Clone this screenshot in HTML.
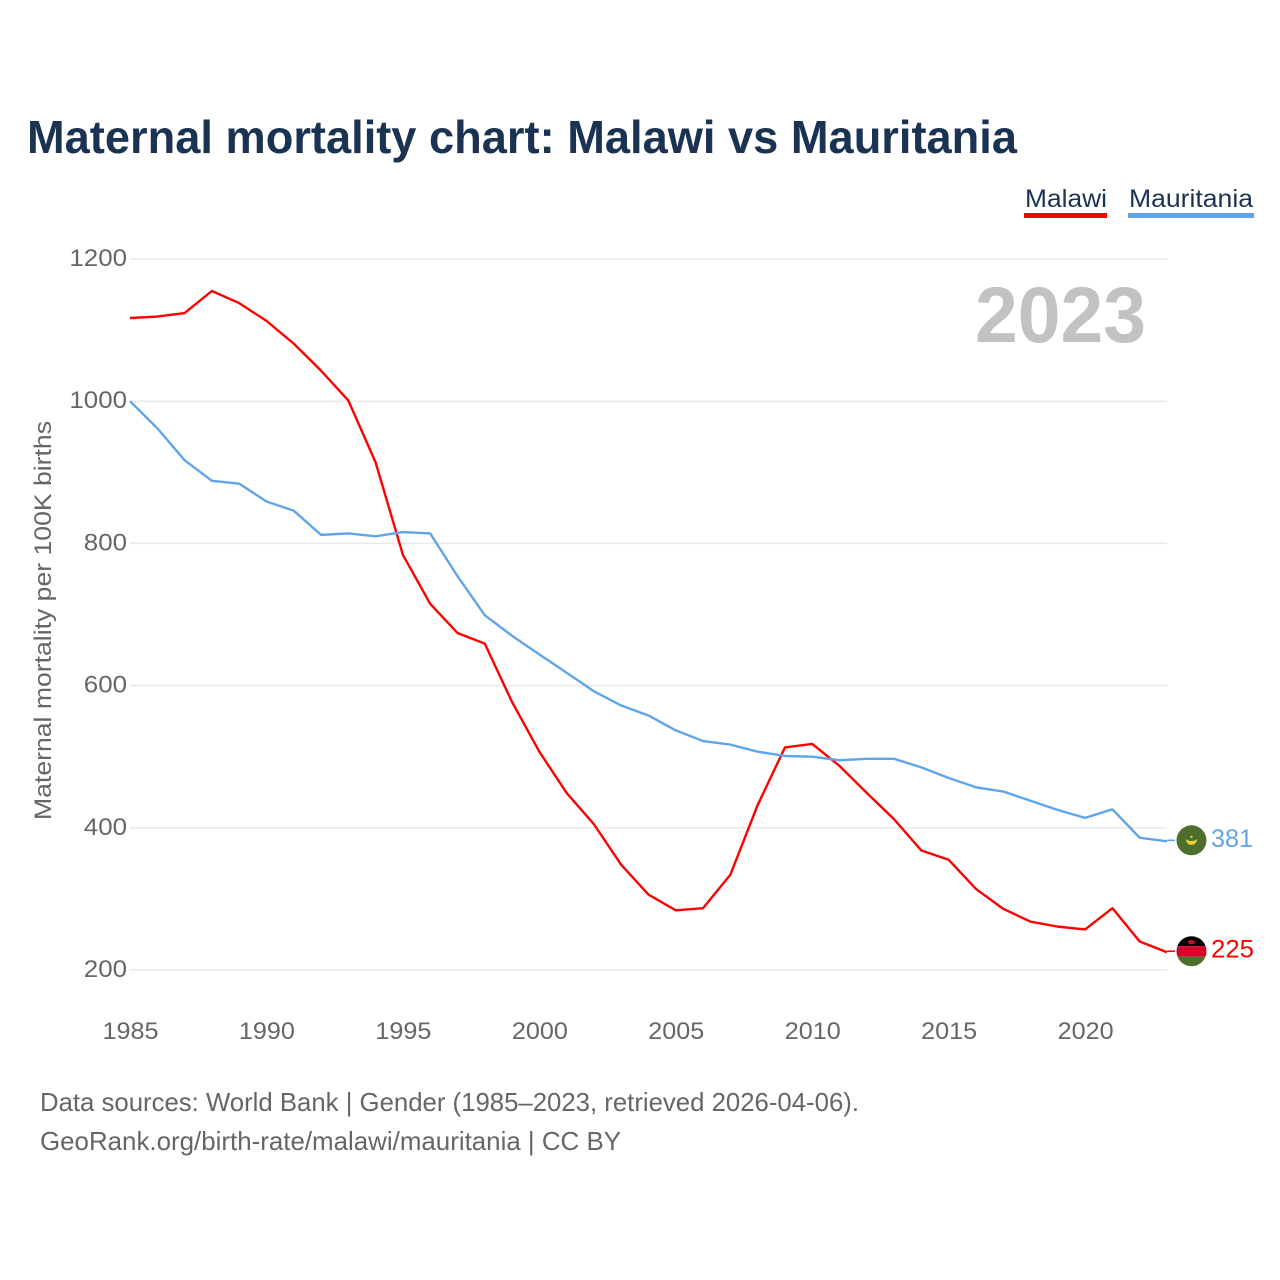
<!DOCTYPE html>
<html lang="en">
<head>
<meta charset="utf-8">
<title>Maternal mortality chart: Malawi vs Mauritania</title>
<style>
html,body{margin:0;padding:0;background:#fff;width:1280px;height:1280px;overflow:hidden}
svg{display:block}
text{font-family:"Liberation Sans",sans-serif}
</style>
</head>
<body>
<svg id="chart" width="1280" height="1280" viewBox="0 0 1280 1280" xmlns="http://www.w3.org/2000/svg">
  <defs>
    <clipPath id="flag-clip-mauritania"><circle id="clip-mr" r="15"></circle></clipPath>
    <clipPath id="flag-clip-malawi"><circle id="clip-mw" r="15"></circle></clipPath>
  </defs>
  <text x="27" y="153" font-size="46" font-weight="700" fill="#1a3352" textLength="990" lengthAdjust="spacingAndGlyphs">Maternal mortality chart: Malawi vs Mauritania</text>
  <g>
    <g>
      <text x="1025" y="207" font-size="25" fill="#1a3352" textLength="82" lengthAdjust="spacingAndGlyphs">Malawi</text>
      <rect x="1024" y="213" width="83" height="5" fill="#ff0000"></rect>
    </g>
    <g>
      <text x="1129" y="207" font-size="25" fill="#1a3352" textLength="124" lengthAdjust="spacingAndGlyphs">Mauritania</text>
      <rect x="1128" y="213" width="126" height="5" fill="#60a5ea"></rect>
    </g>
  </g>
  <g id="grid"></g>
  <text x="975" y="342" font-size="79" font-weight="700" fill="#c2c2c2" textLength="171" lengthAdjust="spacingAndGlyphs">2023</text>
  <g id="y-ticks"></g>
  <g id="x-ticks"></g>
  <text transform="translate(51 820) rotate(-90)" x="0" y="0" font-size="24" fill="#666666" textLength="399" lengthAdjust="spacingAndGlyphs">Maternal mortality per 100K births</text>
  <g id="series"></g>
  <g id="flag-mr" clip-path="url(#flag-clip-mauritania)"></g>
  <g id="flag-mw" clip-path="url(#flag-clip-malawi)"></g>
  <g id="end-labels"></g>
  <text x="40" y="1111" font-size="26" fill="#666666" textLength="819" lengthAdjust="spacingAndGlyphs">Data sources: World Bank | Gender (1985–2023, retrieved 2026-04-06).</text>
  <text x="40" y="1150" font-size="26" fill="#666666" textLength="581" lengthAdjust="spacingAndGlyphs">GeoRank.org/birth-rate/malawi/mauritania | CC BY</text>
</svg>
<script>
const years = [1985,1986,1987,1988,1989,1990,1991,1992,1993,1994,1995,1996,1997,1998,1999,2000,2001,2002,2003,2004,2005,2006,2007,2008,2009,2010,2011,2012,2013,2014,2015,2016,2017,2018,2019,2020,2021,2022,2023];
const malawi = [1117,1119,1124,1155,1138,1113,1081,1043,1001,914,784,715,674,659,577,507,449,405,348,306,284,287,334,432,513,518,487,449,412,368,355,314,286,268,261,257,287,240,225];
const mauritania = [1000,962,917,888,884,859,846,812,814,810,816,814,754,699,670,644,618,592,572,558,537,522,517,507,501,500,495,497,497,485,470,457,451,438,425,414,426,386,381];
const valueTicks = [200,400,600,800,1000,1200];
const yearTicks = [1985,1990,1995,2000,2005,2010,2015,2020];

const NS = 'http://www.w3.org/2000/svg';
const xScale = y => 130 + (y - 1985) * (1167 - 130) / (2023 - 1985);
const yScale = v => 970 - (v - 200) * (970 - 259) / (1200 - 200);

function make(tag, attrs, parent) {
  const el = document.createElementNS(NS, tag);
  for (const k in attrs) el.setAttribute(k, attrs[k]);
  parent.appendChild(el);
  return el;
}

const grid = document.getElementById('grid');
const yTickGroup = document.getElementById('y-ticks');
const xTickGroup = document.getElementById('x-ticks');
const seriesGroup = document.getElementById('series');
const endLabels = document.getElementById('end-labels');

valueTicks.forEach(v => {
  const line = make('line', {x1: 130, x2: 1167, y1: yScale(v), y2: yScale(v), stroke: '#e9e9e9', 'stroke-width': 1.5}, grid);
  
  
  const label = make('text', {x: 127, y: yScale(v) + 7, 'text-anchor': 'end', 'font-size': 24, fill: '#666666', textLength: String(v).length * 14.4, lengthAdjust: 'spacingAndGlyphs'}, yTickGroup);
  label.textContent = v;
  
  
});

yearTicks.forEach(y => {
  const label = make('text', {x: xScale(y) + 0.5, y: 1039, 'text-anchor': 'middle', 'font-size': 24, fill: '#666666', textLength: 56, lengthAdjust: 'spacingAndGlyphs'}, xTickGroup);
  label.textContent = y;
  
  
});

function linePoints(values) {
  return values.map((v, i) => xScale(years[i]).toFixed(2) + ',' + yScale(v).toFixed(2)).join(' ');
}

const lineMalawi = make('polyline', {points: linePoints(malawi), fill: 'none', stroke: '#ff0000', 'stroke-width': 2.4, 'stroke-linejoin': 'round'}, seriesGroup);


const lineMauritania = make('polyline', {points: linePoints(mauritania), fill: 'none', stroke: '#60a5ea', 'stroke-width': 2.4, 'stroke-linejoin': 'round'}, seriesGroup);



const lastX = xScale(years[years.length - 1]);
const flagX = lastX + 24.5;
const lastMw = malawi[malawi.length - 1];
const lastMr = mauritania[mauritania.length - 1];
const mwY = yScale(lastMw) - 1;
const mrY = yScale(lastMr) - 1;

const stubMw = make('line', {x1: lastX, x2: lastX + 8, y1: mwY, y2: mwY, stroke: '#ff0000', 'stroke-width': 1.6}, seriesGroup);


const stubMr = make('line', {x1: lastX, x2: lastX + 8, y1: mrY, y2: mrY, stroke: '#60a5ea', 'stroke-width': 1.6}, seriesGroup);



const clipMr = document.getElementById('clip-mr');
clipMr.setAttribute('cx', flagX);
clipMr.setAttribute('cy', mrY);
const clipMw = document.getElementById('clip-mw');
clipMw.setAttribute('cx', flagX);
clipMw.setAttribute('cy', mwY);

const flagMr = document.getElementById('flag-mr');
make('rect', {x: flagX - 16, y: mrY - 16, width: 32, height: 32, fill: '#4d6f2b'}, flagMr);
make('path', {d: `M${flagX - 5.5} ${mrY - 1}a5.5 5.5 0 0 0 11 0a6.5 3.5 0 0 1 -11 0z`, fill: '#f2cf3a'}, flagMr);
make('circle', {cx: flagX, cy: mrY - 3.5, r: 1.2, fill: '#f2cf3a'}, flagMr);

const flagMw = document.getElementById('flag-mw');
make('rect', {x: flagX - 16, y: mwY - 16, width: 32, height: 11, fill: '#000000'}, flagMw);
make('rect', {x: flagX - 16, y: mwY - 5, width: 32, height: 10.5, fill: '#d9002b'}, flagMw);
make('rect', {x: flagX - 16, y: mwY + 5.5, width: 32, height: 10.5, fill: '#4d6f2b'}, flagMw);
make('ellipse', {cx: flagX, cy: mwY - 9, rx: 3.5, ry: 2.2, fill: '#c8102e'}, flagMw);

const labelMr = make('text', {x: 1211, y: mrY + 6.5, 'font-size': 25, fill: '#60a5ea', textLength: 42, lengthAdjust: 'spacingAndGlyphs'}, endLabels);
labelMr.textContent = lastMr;


const labelMw = make('text', {x: 1211, y: mwY + 6.5, 'font-size': 25, fill: '#ff0000', textLength: 43, lengthAdjust: 'spacingAndGlyphs'}, endLabels);
labelMw.textContent = lastMw;


</script>
</body>
</html>
